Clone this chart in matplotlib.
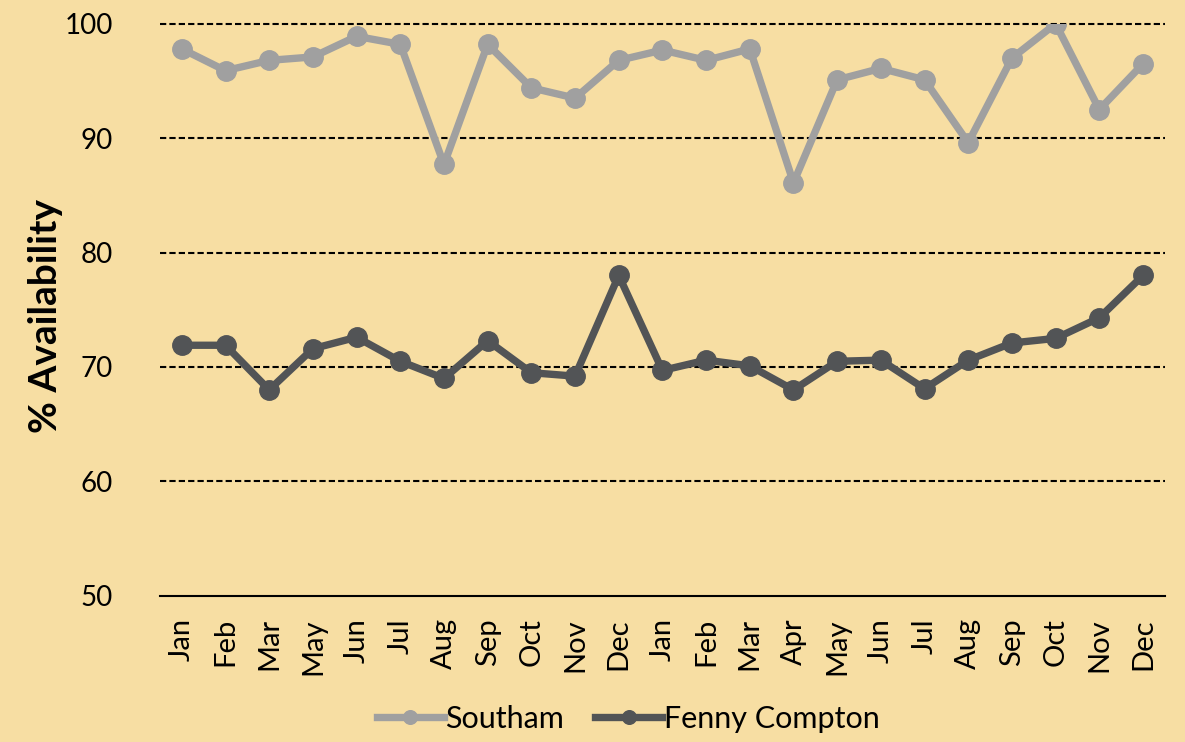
import matplotlib
matplotlib.use("Agg")
import matplotlib.pyplot as plt

months = ["Jan", "Feb", "Mar", "May", "Jun", "Jul", "Aug", "Sep", "Oct", "Nov", "Dec",
          "Jan", "Feb", "Mar", "Apr", "May", "Jun", "Jul", "Aug", "Sep", "Oct", "Nov", "Dec"]
southam = [97.8, 95.9, 96.8, 97.1, 98.9, 98.2, 87.7, 98.2, 94.4, 93.5, 96.8,
           97.7, 96.8, 97.8, 86.1, 95.1, 96.1, 95.1, 89.6, 97.0, 100.0, 92.5, 96.5]
fenny = [71.9, 71.9, 68.0, 71.6, 72.6, 70.5, 69.0, 72.3, 69.5, 69.2, 78.0,
         69.7, 70.6, 70.1, 68.0, 70.5, 70.6, 68.1, 70.6, 72.1, 72.5, 74.3, 78.0]
yticks = [50, 60, 70, 80, 90, 100]

bg = "#F7DEA3"
plt.rcParams['font.family'] = ['Lato', 'DejaVu Sans']

fig = plt.figure(figsize=(11.85, 7.42), dpi=100, facecolor=bg)
ax = fig.add_axes([0.135, 0.197, 0.848, 0.771], facecolor=bg)

x = list(range(len(months)))
ax.plot(x, southam, color="#A0A0A0", lw=5.3, marker="o", ms=14, label="Southam", zorder=3)
ax.plot(x, fenny, color="#525456", lw=5.3, marker="o", ms=14, label="Fenny Compton", zorder=3)

ax.set_xlim(-0.5, len(months) - 0.5)
ax.set_ylim(50, 100)
ax.set_yticks(yticks)
ax.set_yticklabels([str(v) for v in yticks], fontsize=20)
ax.set_xticks(x)
ax.set_xticklabels(months, rotation=90, fontsize=21)
ax.tick_params(axis='y', length=0, pad=34)
ax.tick_params(axis='x', length=0, pad=16)

for v in yticks[1:]:
    ax.axhline(v, color="black", lw=1.5, ls=(0, (3, 1.5)), zorder=1, clip_on=False)

for s in ["left", "right", "top"]:
    ax.spines[s].set_visible(False)
ax.spines["bottom"].set_color("black")
ax.spines["bottom"].set_linewidth(1.5)

ax.set_ylabel("% Availability", fontsize=28, fontweight="bold", labelpad=22)
ax.yaxis.set_label_coords(-0.097, 0.49)

leg = fig.legend(loc="lower center", bbox_to_anchor=(0.53, -0.025), ncol=2, frameon=False,
                 fontsize=22, handlelength=2.2, handletextpad=0.05, columnspacing=1.0,
                 markerscale=0.7)

fig.savefig("out.png", dpi=100, facecolor=bg)
